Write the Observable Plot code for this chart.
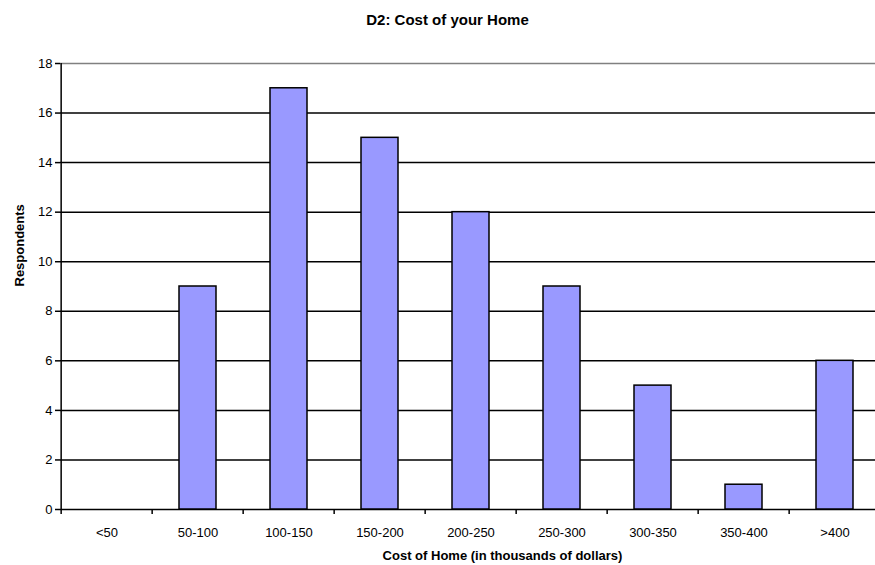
<!DOCTYPE html>
<html><head><meta charset="utf-8">
<script src="https://cdn.jsdelivr.net/npm/d3@7"></script>
<script src="https://cdn.jsdelivr.net/npm/@observablehq/plot@0.6"></script>
<style>
html,body{margin:0;padding:0;background:#fff;overflow:hidden;}
body{width:875px;height:565px;}
#chart svg{display:block;}
</style></head><body><div id="chart"></div>
<script>
const title = "D2: Cost of your Home";
const categories = ["<50","50-100","100-150","150-200","200-250","250-300","300-350","350-400",">400"];
const respondents = [0, 9, 17, 15, 12, 9, 5, 1, 6];
const yTicks = [0, 2, 4, 6, 8, 10, 12, 14, 16, 18];
const xLabel = "Cost of Home (in thousands of dollars)";
const yLabel = "Respondents";

const data = categories.map((c, i) => ({category: c, value: respondents[i]}));
const pi = 0.59;
const font = "'Liberation Sans', Arial, Helvetica, sans-serif";

const boundaryMark = (index, scales) => {
  const x = scales.x, y = scales.y;
  const step = x(categories[1]) - x(categories[0]);
  const bw = step * (1 - pi);
  const g = d3.create("svg:g").attr("stroke", "#000").attr("stroke-width", 1.5);
  const y0 = y(0);
  for (const c of categories) {
    const bx = x(c) - (step - bw) / 2;
    g.append("line").attr("x1", bx).attr("x2", bx).attr("y1", y0).attr("y2", y0 + 5);
  }
  const lx = x(categories[0]) - (step - bw) / 2;
  g.append("line").attr("x1", lx).attr("x2", lx).attr("y1", y(18)).attr("y2", y0);
  return g.node();
};

const chart = Plot.plot({
  width: 875, height: 565,
  marginLeft: 60, marginRight: -7, marginTop: 63, marginBottom: 56,
  style: {fontFamily: font, fontSize: "13px", color: "#000", background: "#fff"},
  x: {domain: categories, paddingInner: pi, paddingOuter: pi / 2, label: null},
  y: {domain: [0, 18], label: null},
  marks: [
    Plot.ruleY(yTicks.filter(t => t < 18), {stroke: "#000", strokeWidth: 1.5}),
    Plot.ruleY([18], {stroke: "#808080", strokeWidth: 1.5}),
    Plot.barY(data, {x: "category", y: "value", fill: "#9999FF", stroke: "#000", strokeWidth: 1.5}),
    Plot.axisY(yTicks, {tickSize: 5, tickPadding: 3, stroke: "#000", strokeWidth: 1.5, fontSize: 13, label: null}),
    Plot.axisX({tickSize: 0, tickPadding: 18, fontSize: 13, label: null}),
    boundaryMark,
    Plot.text([title], {frameAnchor: "top", dx: -24, dy: -49, fontWeight: "bold", fontSize: 15}),
    Plot.text([xLabel], {frameAnchor: "bottom", dx: 31, dy: 50, fontWeight: "bold", fontSize: 13}),
    Plot.text([yLabel], {frameAnchor: "left", dx: -41, rotate: -90, fontWeight: "bold", fontSize: 13})
  ]
});
document.getElementById("chart").appendChild(chart);
</script></body></html>
